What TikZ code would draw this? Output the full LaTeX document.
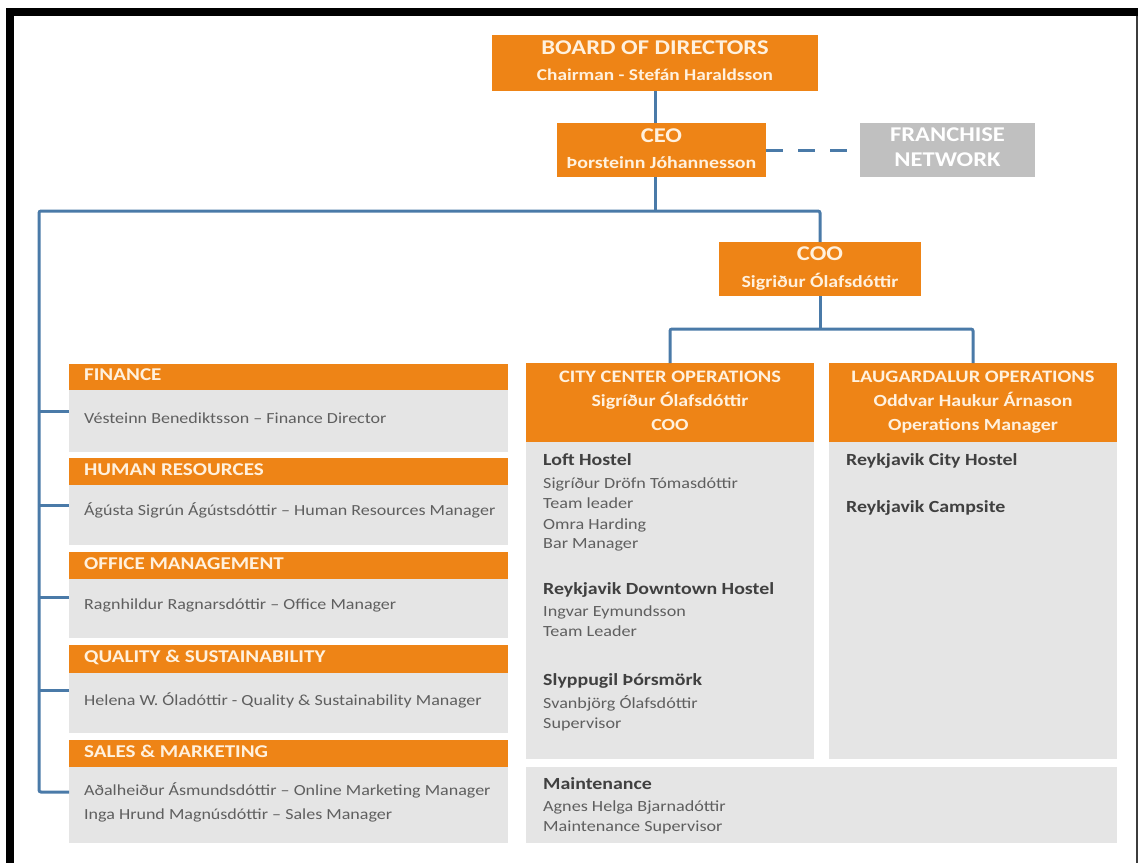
\documentclass[tikz,border=0pt]{standalone}
\usepackage{fontspec}
\setmainfont{Carlito}[FakeStretch=1.17]
\usetikzlibrary{calc}
\definecolor{orng}{RGB}{238,132,22}
\definecolor{hdtxt}{RGB}{255,241,222}
\definecolor{gbox}{RGB}{229,229,229}
\definecolor{franch}{RGB}{192,192,192}
\definecolor{lnblue}{RGB}{74,122,168}
\definecolor{bodytxt}{RGB}{95,95,95}
\definecolor{headtxt}{RGB}{64,64,64}
\definecolor{framegray}{RGB}{60,60,60}
\tikzset{
  obox/.style={fill=orng, inner sep=0pt, outer sep=0pt},
  gbody/.style={fill=gbox, inner sep=0pt, outer sep=0pt},
  fbox/.style={fill=franch, inner sep=0pt, outer sep=0pt},
  conn/.style={draw=lnblue, line width=3pt, rounded corners=2pt},
  ctext/.style={inner sep=0pt, anchor=center, text height=0.7em, text depth=0.2em, text=hdtxt, font=\bfseries},
  ltext/.style={inner sep=0pt, anchor=west, text height=0.7em, text depth=0.2em},
  dhead/.style={ltext, text=hdtxt, font=\fontsize{18}{22}\selectfont\bfseries},
  dbody/.style={ltext, text=bodytxt, font=\fontsize{15.4}{19}\selectfont},
  utitle/.style={ltext, text=headtxt, font=\fontsize{17}{21}\selectfont\bfseries},
  usub/.style={ltext, text=bodytxt, font=\fontsize{15.5}{19}\selectfont},
}
\begin{document}
\begin{tikzpicture}[x=1pt,y=-1pt]
\useasboundingbox (0,0) rectangle (1138,863);
\fill[white] (0,0) rectangle (1138,863);
% frame
\fill[black] (6,8) rectangle (1138,16);
\fill[black] (6,8) rectangle (14,863);
\fill[framegray] (1135.5,16) rectangle (1137.5,863);

% top boxes
\node[obox, minimum width=326, minimum height=56] (board) at (655,63) {};
\node[ctext, font=\fontsize{21}{25}\selectfont\bfseries] (board1) at (655,52) {BOARD OF DIRECTORS};
\node[ctext, font=\fontsize{16.5}{20}\selectfont\bfseries] (board2) at (655,78) {Chairman - Stefán Haraldsson};

\node[obox, minimum width=209, minimum height=54] (ceo) at (661.5,150) {};
\node[ctext, font=\fontsize{21}{25}\selectfont\bfseries] (ceo1) at (661.5,140) {CEO};
\node[ctext, font=\fontsize{17}{20}\selectfont\bfseries] (ceo2) at (661.5,166) {Þorsteinn Jóhannesson};

\node[fbox, minimum width=175, minimum height=54] (franch) at (947.5,150) {};
\node[ctext, text=white, font=\fontsize{21}{25}\selectfont\bfseries] (fr1) at (947.5,138.5) {FRANCHISE};
\node[ctext, text=white, font=\fontsize{21}{25}\selectfont\bfseries] (fr2) at (947.5,164) {NETWORK};

\node[obox, minimum width=202, minimum height=54] (coo) at (820,269) {};
\node[ctext, font=\fontsize{21}{25}\selectfont\bfseries] (coo1) at (820,258) {COO};
\node[ctext, font=\fontsize{17}{20}\selectfont\bfseries] (coo2) at (820,285) {Sigriður Ólafsdóttir};

% operations
\node[obox, minimum width=288, minimum height=79] (cityhdr) at (670,402.5) {};
\node[ctext, font=\fontsize{17.5}{21}\selectfont\bfseries] (city1) at (670,380) {CITY CENTER OPERATIONS};
\node[ctext, font=\fontsize{17}{20}\selectfont\bfseries] (city2) at (670,404) {Sigríður Ólafsdóttir};
\node[ctext, font=\fontsize{17}{20}\selectfont\bfseries] (city3) at (670,428) {COO};
\node[gbody, minimum width=288, minimum height=317] (citybody) at (670,600.5) {};

\node[obox, minimum width=288, minimum height=79] (laughdr) at (973,402.5) {};
\node[ctext, font=\fontsize{17.5}{21}\selectfont\bfseries] (laug1) at (973,380) {LAUGARDALUR OPERATIONS};
\node[ctext, font=\fontsize{17}{20}\selectfont\bfseries] (laug2) at (973,404) {Oddvar Haukur Árnason};
\node[ctext, font=\fontsize{17}{20}\selectfont\bfseries] (laug3) at (973,428) {Operations Manager};
\node[gbody, minimum width=288, minimum height=317] (laugbody) at (973,600.5) {};

\node[gbody, minimum width=591, minimum height=76] (maint) at (821.5,805) {};

% city body texts
\node[utitle] (loft) at (543,463) {Loft Hostel};
\node[usub] (loft1) at (543,486) {Sigríður Dröfn Tómasdóttir};
\node[usub] (loft2) at (543,506) {Team leader};
\node[usub] (loft3) at (543,527) {Omra Harding};
\node[usub] (loft4) at (543,546) {Bar Manager};
\node[utitle] (down) at (543,592) {Reykjavik Downtown Hostel};
\node[usub] (down1) at (543,614) {Ingvar Eymundsson};
\node[usub] (down2) at (543,634) {Team Leader};
\node[utitle] (slyp) at (543,683) {Slyppugil Þórsmörk};
\node[usub] (slyp1) at (543,706) {Svanbjörg Ólafsdóttir};
\node[usub] (slyp2) at (543,726) {Supervisor};
\node[utitle] (rch) at (846,463) {Reykjavik City Hostel};
\node[utitle] (rcs) at (846,510) {Reykjavik Campsite};
\node[utitle] (mnt) at (543,787) {Maintenance};
\node[usub] (mnt1) at (543,809) {Agnes Helga Bjarnadóttir};
\node[usub] (mnt2) at (543,829) {Maintenance Supervisor};

% departments
\node[obox, minimum width=439, minimum height=26] (finhdr) at (288.5,377) {};
\node[gbody, minimum width=439, minimum height=62] (finbody) at (288.5,421) {};
\node[obox, minimum width=439, minimum height=27] (hrhdr) at (288.5,471.5) {};
\node[gbody, minimum width=439, minimum height=60] (hrbody) at (288.5,515) {};
\node[obox, minimum width=439, minimum height=27] (ofhdr) at (288.5,565.5) {};
\node[gbody, minimum width=439, minimum height=59] (ofbody) at (288.5,608.5) {};
\node[obox, minimum width=439, minimum height=28] (qshdr) at (288.5,659) {};
\node[gbody, minimum width=439, minimum height=60] (qsbody) at (288.5,703) {};
\node[obox, minimum width=439, minimum height=27] (smhdr) at (288.5,753.5) {};
\node[gbody, minimum width=439, minimum height=76] (smbody) at (288.5,805) {};

\node[dhead] (fint) at (84,378) {FINANCE};
\node[dhead] (hrt) at (84,472.5) {HUMAN RESOURCES};
\node[dhead] (oft) at (84,566.5) {OFFICE MANAGEMENT};
\node[dhead] (qst) at (84,660) {QUALITY \& SUSTAINABILITY};
\node[dhead] (smt) at (84,754.5) {SALES \& MARKETING};
\node[dbody] (fin1) at (84,421) {Vésteinn Benediktsson – Finance Director};
\node[dbody] (hr1) at (84,513) {Ágústa Sigrún Ágústsdóttir – Human Resources Manager};
\node[dbody] (of1) at (84,607) {Ragnhildur Ragnarsdóttir – Office Manager};
\node[dbody] (qs1) at (84,703) {Helena W. Óladóttir - Quality \& Sustainability Manager};
\node[dbody] (sm1) at (84,793) {Aðalheiður Ásmundsdóttir – Online Marketing Manager};
\node[dbody] (sm2) at (84,817) {Inga Hrund Magnúsdóttir – Sales Manager};

% connectors
\coordinate (topbar) at (39,211);
\coordinate (cbar) at (0,329);
\draw[conn] (board.south) -- (board.south |- ceo.north);
\draw[conn] (board.south |- ceo.south) -- (board.south |- topbar);
\draw[conn] ($(smbody.north west)+(0,25)$) -| (topbar) -| (coo.north);
\draw[conn] ($(finbody.north west)+(0,21)$) -- ++(-30,0);
\draw[conn] ($(hrbody.north west)+(0,20)$) -- ++(-30,0);
\draw[conn] ($(ofbody.north west)+(0,18)$) -- ++(-30,0);
\draw[conn] ($(qsbody.north west)+(0,17)$) -- ++(-30,0);
\draw[conn] (coo.south) -- (coo.south |- cbar);
\draw[conn] (cityhdr.north) |- (coo.south |- cbar) -| (laughdr.north);
\draw[conn, dash pattern=on 17pt off 15pt, rounded corners=0pt] (ceo.east) -- (franch.west);
\end{tikzpicture}
\end{document}
